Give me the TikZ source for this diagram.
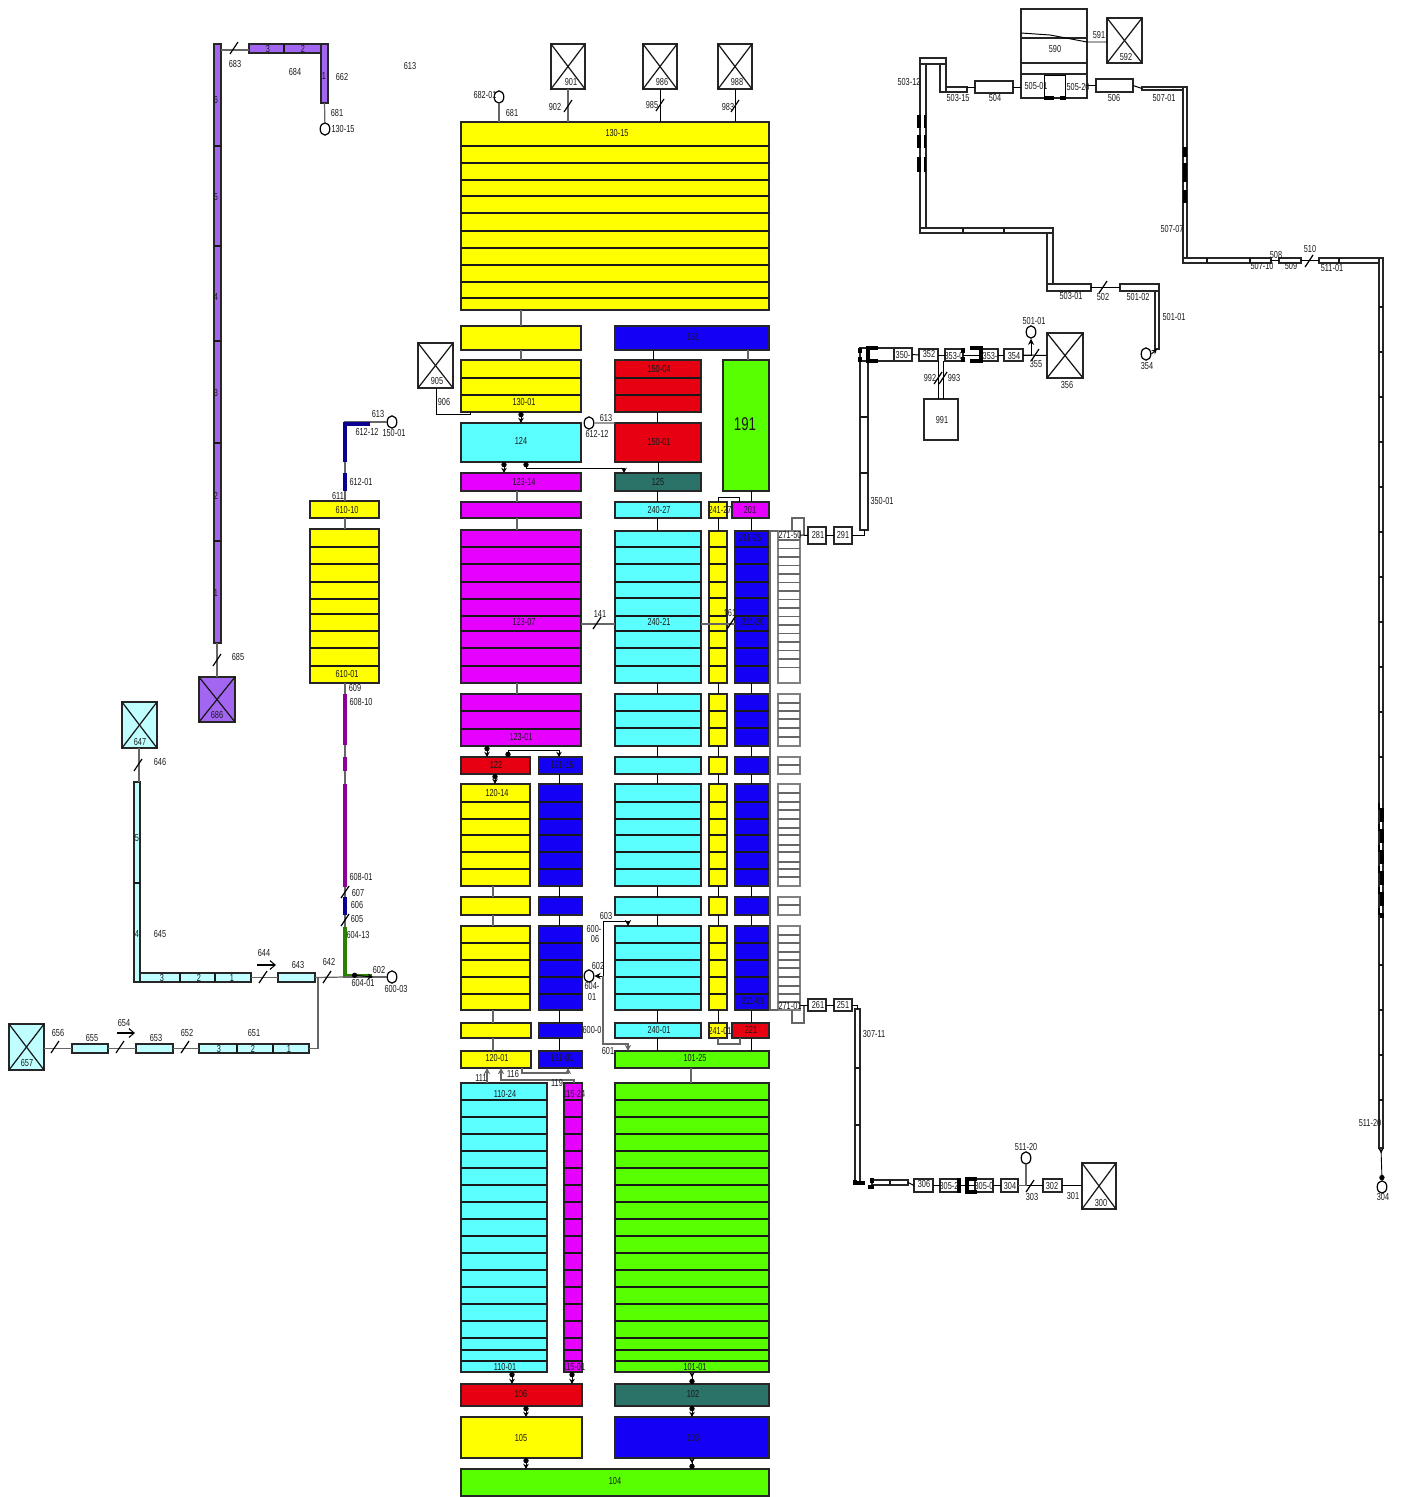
\documentclass[tikz,border=0pt]{standalone}
\usepackage{fontspec}
\setmainfont{Liberation Sans}[FakeStretch=0.72]
\usetikzlibrary{arrows.meta,fit,shapes.geometric}

\definecolor{cellyellow}{HTML}{FFFF00}
\definecolor{cellblue}{HTML}{1400F5}
\definecolor{cellcyan}{HTML}{5CFFFF}
\definecolor{cellmagenta}{HTML}{E600FF}
\definecolor{cellred}{HTML}{E60012}
\definecolor{cellgreen}{HTML}{58FF00}
\definecolor{cellteal}{HTML}{2B7268}
\definecolor{paleblue}{HTML}{BFFFFF}
\definecolor{palepurple}{HTML}{A366F0}

\tikzset{
  cell/.style={draw=black!85, line width=0.7pt, inner sep=0pt, outer sep=0pt, rectangle},
  rowline/.style={black!90, line width=0.7pt},
  link/.style={black!60, line width=0.7pt},
  blk/.style={black, line width=0.55pt},
  tap/.style={black, line width=0.5pt, {Circle[length=3pt]}-{Stealth[length=3pt,width=3.2pt]}},
  rtap/.style={black, line width=0.5pt, {Stealth[length=3pt,width=3.2pt]}-{Circle[length=3pt]}},
  ytap/.style={black, line width=0.5pt, {Stealth[length=3pt,width=3.2pt,reversed]}-{Circle[length=3pt]}},
  term/.style={ellipse, draw=black, fill=white, line width=0.7pt, inner sep=0pt, minimum width=5.5pt, minimum height=7pt},
  brk/.style={black, line width=1.8pt},
  tube/.style={line width=1.9pt},
  lbl/.style={text=black!90, inner sep=0pt, font=\fontsize{5.8}{6}\selectfont},
}

% A filled box with row lines across it
\newcommand{\blk}[7]{
  \node[cell, fill=#2, fit={(#3,#4) (#5,#6)}] (#1) {};
  \foreach \ypos in {#7} \draw[rowline] (#3,\ypos) -- (#5,\ypos);
}
% The same with the lines running down it
\newcommand{\blkx}[7]{
  \node[cell, fill=#2, fit={(#3,#4) (#5,#6)}] (#1) {};
  \foreach \xpos in {#7} \draw[rowline] (\xpos,#4) -- (\xpos,#6);
}
% A crossed box
\newcommand{\xbox}[6]{
  \node[cell, fill=#2, fit={(#3,#4) (#5,#6)}] (#1) {};
  \draw[rowline] (#1.north west) -- (#1.south east);
  \draw[rowline] (#1.north east) -- (#1.south west);
}
% Link between two boxes at a given x
\newcommand{\vlink}[4][link]{\draw[#1] (#4,0 |- #2.south) -- (#4,0 |- #3.north);}
\newcommand{\vlinkup}[4][link]{\draw[#1] (#4,0 |- #2.north) -- (#4,0 |- #3.south);}
% Short stroke across a line
\newcommand{\cutmark}[2]{\draw[black, line width=0.7pt] (#1-4,#2+6) -- (#1+4,#2-6);}

\begin{document}
\begin{tikzpicture}[x=0.02cm, y=-0.02cm]
\useasboundingbox (0,0) rectangle (1401,1497);

% The top stack
\blk{b130t}{cellyellow}{461}{122}{769}{310}{146,163,180,196,213,231,248,265,282,298}
\blk{b130m}{cellyellow}{461}{326}{581}{350}{}
\blk{b130b}{cellyellow}{461}{360}{581}{412}{378,395}
\blk{b124}{cellcyan}{461}{423}{581}{462}{}
\blk{b123t}{cellmagenta}{461}{473}{581}{491}{}
\blk{b123m}{cellmagenta}{461}{502}{581}{518}{}
\blk{b123s}{cellmagenta}{461}{530}{581}{683}{547,564,582,599,616,631,648,666}
\blk{b123b}{cellmagenta}{461}{694}{581}{746}{711,729}
\blk{b122}{cellred}{461}{757}{530}{774}{}
\blk{b121t}{cellblue}{539}{757}{582}{774}{}

% The second column of the top
\blk{b151}{cellblue}{615}{326}{769}{350}{}
\blk{b150t}{cellred}{615}{360}{701}{412}{378,395}
\blk{b150b}{cellred}{615}{423}{701}{462}{}
\blk{b125}{cellteal}{615}{473}{701}{491}{}
\blk{b191}{cellgreen}{723}{360}{769}{491}{}

% The columns
\foreach \name/\colour/\xa/\xb in {l/cellyellow/461/530, m/cellblue/539/582, c/cellcyan/615/701, y/cellyellow/709/727, d/cellblue/735/769}{
  \blk{\name a}{\colour}{\xa}{784}{\xb}{886}{802,819,835,852,869}
  \blk{\name b}{\colour}{\xa}{897}{\xb}{915}{}
  \blk{\name c}{\colour}{\xa}{926}{\xb}{1010}{943,960,977,994}
}
\foreach \name/\colour/\xa/\xb in {c/cellcyan/615/701, y/cellyellow/709/727, d/cellblue/735/769}{
  \blk{\name s}{\colour}{\xa}{531}{\xb}{683}{547,564,582,598,616,631,648,666}
  \blk{\name t}{\colour}{\xa}{694}{\xb}{746}{711,728}
  \blk{\name u}{\colour}{\xa}{757}{\xb}{774}{}
}
\blk{c240t}{cellcyan}{615}{502}{701}{518}{}
\blk{y241t}{cellyellow}{709}{502}{727}{518}{}
\blk{b201}{cellmagenta}{732}{502}{769}{518}{}
\blk{ll}{cellyellow}{461}{1023}{531}{1038}{}
\blk{ml}{cellblue}{539}{1023}{582}{1038}{}
\blk{c240b}{cellcyan}{615}{1023}{701}{1038}{}
\blk{y241b}{cellyellow}{709}{1023}{727}{1038}{}
\blk{b221}{cellred}{732}{1023}{769}{1038}{}
\blk{b120}{cellyellow}{461}{1051}{531}{1068}{}
\blk{b121b}{cellblue}{539}{1051}{582}{1068}{}
\blk{b101t}{cellgreen}{615}{1051}{769}{1068}{}

% The white column
\begin{scope}[cell/.append style={draw=black!50, line width=0.9pt}, rowline/.append style={black!60}]
\blk{w1}{white}{778}{531}{800}{683}{540,548.5,...,675}
\blk{w2}{white}{778}{694}{800}{746}{703,711,719,728,737}
\blk{w3}{white}{778}{757}{800}{774}{765}
\blk{w4}{white}{778}{784}{800}{886}{793,802,810,819,828,835,845,852,862,869,877}
\blk{w5}{white}{778}{897}{800}{915}{905}
\blk{w6}{white}{778}{926}{800}{1010}{935,943,952,960,968,977,986,994,1002}
\end{scope}
\draw[link] (770,531) -- (770,1010);
\draw[link] (769,531) -- (w1.north west);
\draw[link] (769,1010) -- (w6.south west);

% The bottom stacks
\blk{b110}{cellcyan}{461}{1083}{547}{1372}{1100,1117,...,1338,1350,1361}
\blk{b115}{cellmagenta}{564}{1083}{582}{1372}{1100,1117,...,1338,1350,1361}
\blk{b101}{cellgreen}{615}{1083}{769}{1372}{1100,1117,...,1338,1350,1361}
\blk{b106}{cellred}{461}{1384}{582}{1406}{}
\blk{b102}{cellteal}{615}{1384}{769}{1406}{}
\blk{b105}{cellyellow}{461}{1417}{582}{1458}{}
\blk{b103}{cellblue}{615}{1417}{769}{1458}{}
\blk{b104}{cellgreen}{461}{1469}{769}{1496}{}

% Links down the stacks
\vlink{b130t}{b130m}{521}
\vlink{b130m}{b130b}{521}
\vlinkup[rtap]{b124}{b130b}{521}
\vlink[tap]{b124}{b123t}{504}
\vlink{b123t}{b123m}{517}
\vlink{b123m}{b123s}{517}
\vlink{b123s}{b123b}{517}
\vlinkup[rtap]{b122}{b123b}{487}
\vlink[tap]{b122}{la}{495}
\vlink[blk]{b121t}{ma}{559}
\vlink{la}{lb}{493}
\vlink{lb}{lc}{493}
\vlink{lc}{ll}{493}
\vlink{ll}{b120}{493}
\vlink[blk]{ma}{mb}{559}
\vlink[blk]{mb}{mc}{559}
\vlink[blk]{mc}{ml}{559}
\vlink[blk]{ml}{b121b}{559}
\vlink[blk]{b151}{b150t}{653}
\vlink{b151}{b191}{748}
\vlink[blk]{b150t}{b150b}{657}
\vlink[blk]{b150b}{b125}{658}
\vlink[blk]{b125}{c240t}{657}
\vlink[blk]{c240t}{cs}{657}
\vlink[blk]{cs}{ct}{657}
\vlink[blk]{ct}{cu}{657}
\vlink[blk]{cu}{ca}{657}
\vlink[blk]{ca}{cb}{657}
\vlink[blk]{cb}{cc}{657}
\vlink[blk]{cc}{c240b}{657}
\vlink[blk]{c240b}{b101t}{657}
\vlink[blk]{y241t}{ys}{718}
\vlink[blk]{ys}{yt}{718}
\vlink[blk]{yt}{yu}{718}
\vlink[blk]{yu}{ya}{718}
\vlink[blk]{ya}{yb}{718}
\vlink[blk]{yb}{yc}{718}
\vlink[blk]{yc}{y241b}{718}
\vlink[blk]{b191}{b201}{751}
\vlink[blk]{b201}{ds}{751}
\vlink[blk]{ds}{dt}{751}
\vlink[blk]{dt}{du}{751}
\vlink[blk]{du}{da}{751}
\vlink[blk]{da}{db}{751}
\vlink[blk]{db}{dc}{751}
\vlink[blk]{dc}{b221}{751}
\vlink[blk]{b221}{b101t}{751}
\vlink{b101t}{b101}{691}
\vlinkup[rtap]{b106}{b110}{512}
\vlinkup[rtap]{b106}{b115}{572}
\vlink[ytap]{b101}{b102}{692}
\vlink[tap]{b106}{b105}{526}
\vlink[tap]{b102}{b103}{692}
\vlinkup[rtap]{b104}{b105}{526}
\vlink[ytap]{b103}{b104}{692}

% Links that go round
\draw[tap] (526,0 |- b124.south) |- (624,468) -- (624,0 |- b125.north);
\draw[tap] (508,0 |- b122.north) |- (559,750) -- (559,0 |- b121t.north);
\draw[blk] (718,0 |- y241t.north) |- (739,497) -- (739,0 |- b201.north);
\draw[link] (718,0 |- y241b.south) |- (740,1044) -- (740,0 |- b221.south);
\draw[link, -{Stealth[length=3.5pt,width=3.5pt]}] (487,0 |- b110.north) -- (487,0 |- b120.south);
\draw[link, -{Stealth[length=3.5pt,width=3.5pt]}] (522,0 |- b120.south) |- (568,1073) -- (568,0 |- b121b.south);
\draw[link, -{Stealth[length=3.5pt,width=3.5pt]}] (574,0 |- b115.north) |- (501,1080) -- (501,0 |- b120.south);

% Links across
\draw[link] (b123s.east |- 0,624) -- (cs.west |- 0,624);
\cutmark{597}{623}
\draw[link] (cs.east |- 0,624) -- (ds.west |- 0,624);
\cutmark{731}{623}

% The feed with the circle in the middle
\node[term] (c604) at (589,976) {};
\coordinate (j603) at (603,976);
\draw[blk, -{Stealth[length=3.5pt,width=3.5pt]}] (j603) -- (c604);
\draw[blk, -{Stealth[length=3.5pt,width=3.5pt]}] (j603) |- (628,921) -- (628,0 |- cc.north);
\draw[link, -{Stealth[length=3.5pt,width=3.5pt]}] (j603) |- (628,1044) -- (628,0 |- b101t.north);

% Crossed boxes above the stack
\xbox{x901}{white}{551}{44}{585}{89}
\xbox{x986}{white}{643}{44}{677}{89}
\xbox{x988}{white}{718}{44}{752}{89}
\xbox{x905}{white}{418}{343}{453}{388}
\node[term] (c682) at (499,97) {};
\draw[link] (c682) -- (499,0 |- b130t.north);
\draw[link] (568,0 |- x901.south) -- (568,0 |- b130t.north);
\cutmark{568}{106}
\draw[blk] (660,0 |- x986.south) -- (660,0 |- b130t.north);
\cutmark{660}{105}
\draw[blk] (735,0 |- x988.south) -- (735,0 |- b130t.north);
\cutmark{735}{106}
\draw[blk] (436,0 |- x905.south) |- (470,414) -- (470,0 |- b130b.south);
\node[term] (c612) at (589,423) {};
\draw[link] (c612) -- (b150b.north west);

% The purple line
\blk{p1}{palepurple}{214}{44}{221}{643}{146,246,341,443,541}
\blkx{p2}{palepurple}{249}{44}{328}{53}{284,321}
\blk{p3}{palepurple}{321}{44}{328}{103}{}
\xbox{x686}{palepurple}{199}{677}{235}{722}
\node[term] (c130) at (325,129) {};
\draw[link] (p1.east |- 0,50) -- (p2.west |- 0,50);
\cutmark{234}{48}
\draw[link] (p3.south) -- (c130);
\draw[link] (217,0 |- p1.south) -- (217,0 |- x686.north);
\cutmark{217}{660}

% The line on the left
\blk{y610t}{cellyellow}{310}{501}{379}{518}{}
\blk{y610}{cellyellow}{310}{529}{379}{683}{547,564,582,599,614,631,648,666}
\node[term] (c150) at (392,422) {};
\draw[link] (345,0 |- y610t.north) |- (c150);
\vlink{y610t}{y610}{345}
\draw[tube, cellblue!60!black] (345,462) |- (370,424);
\draw[tube, cellblue!60!black] (345,473) -- (345,491);
\coordinate (j604) at (345,977);
\draw[link] (345,0 |- y610.south) -- (j604);
\draw[tube, cellmagenta!60!black] (345,694) -- (345,745) (345,757) -- (345,771) (345,784) -- (345,887);
\cutmark{345}{892}
\draw[tube, cellblue!60!black] (345,897) -- (345,915);
\cutmark{345}{920}
\draw[tube, cellgreen!50!black] (345,927) -- (345,976) -- (372,976);
\node[term] (c600) at (392,977) {};
\draw[link] (j604) -- (c600);
\draw[tap] (352,975) -- (373,977);

% The pale blue lines
\xbox{x647}{paleblue}{122}{702}{157}{748}
\blk{s645}{paleblue}{134}{782}{140}{982}{883}
\blkx{s645b}{paleblue}{140}{973}{251}{982}{180,215}
\blk{s643}{paleblue}{278}{973}{315}{982}{}
\draw[link] (139,0 |- x647.south) -- (139,0 |- s645.north);
\cutmark{138}{765}
\draw[link] (s645b.east) -- (s643.west);
\cutmark{263}{977}
\draw[link] (s643.east) -- (j604);
\cutmark{327}{977}
\draw[black, line width=0.6pt, -{Straight Barb[length=3pt,width=5pt]}] (257,965) -- (276,965);
\xbox{x657}{paleblue}{9}{1024}{44}{1070}
\blk{s655}{paleblue}{72}{1044}{108}{1053}{}
\blk{s653}{paleblue}{136}{1044}{173}{1053}{}
\blkx{s651}{paleblue}{199}{1044}{309}{1053}{237,273}
\draw[link] (x657.east |- s655.west) -- (s655.west);
\cutmark{55}{1047}
\draw[link] (s655.east) -- (s653.west);
\cutmark{120}{1047}
\draw[link] (s653.east) -- (s651.west);
\cutmark{185}{1047}
\draw[link] (s651.east) -| (318,977);
\draw[black, line width=0.6pt, -{Straight Barb[length=3pt,width=5pt]}] (117,1033) -- (135,1033);

% The line out of the white column, upper end
\blk{b281}{white}{808}{527}{826}{544}{}
\blk{b291}{white}{834}{527}{852}{544}{}
\draw[link] (792,0 |- w1.north) |- (804,518) -- (804,535);
\draw[blk] (w1.east |- 0,535) -- (b281.west);
\draw[blk] (b281.east) -- (b291.west);
\blk{b350}{white}{860}{361}{868}{530}{417,473}
\draw[blk] (b291.east) -| (b350.south);
\blk{b350t}{white}{860}{348}{894}{361}{}
\blk{b350b}{white}{894}{348}{912}{361}{}
\blk{b352}{white}{919}{349}{938}{361}{}
\blk{b353a}{white}{945}{349}{963}{361}{}
\blk{b353b}{white}{982}{349}{998}{361}{}
\blk{b354}{white}{1004}{349}{1023}{361}{}
\xbox{x356}{white}{1047}{333}{1083}{378}
\blk{b991}{white}{924}{399}{958}{440}{}
\node[term] (c501) at (1031,332) {};
\draw[blk] (b350b.east) -- (b352.west);
\draw[blk] (b352.east) -- (b353a.west);
\draw[blk] (b353b.west) -- (b353a.east);
\draw[blk] (b353b.east) -- (b354.west);
\draw[blk] (b354.east) -- (x356.west);
\cutmark{1035}{355}
\draw[blk, -{Stealth[length=3.5pt,width=3.5pt]}] (b354.east) -| (c501.south);
\draw[blk] (938,0 |- b352.south) -- (938,0 |- b991.north);
\draw[blk] (943,0 |- b352.south) -- (943,0 |- b991.north);
\cutmark{938}{378}
\cutmark{943}{378}
\draw[brk] (860,348) -- (860,353) (860,357) -- (860,362);
\draw[brk] (878,348) -- (868,348) -- (868,361) -- (878,361);
\draw[brk] (963,348) -- (963,353) (963,357) -- (963,362);
\draw[brk] (970,348) -- (981,348) -- (981,361) -- (970,361);

% The line out of the white column, lower end
\blk{b261}{white}{808}{999}{826}{1011}{}
\blk{b251}{white}{834}{999}{852}{1011}{}
\draw[link] (792,0 |- w6.south) |- (804,1023) -- (804,1005);
\draw[blk] (w6.east |- 0,1005) -- (b261.west);
\draw[blk] (b261.east) -- (b251.west);
\blk{b307}{white}{855}{1009}{860}{1183}{1068,1125}
\draw[blk] (b251.east) -| (b307.north);
\blkx{b307b}{white}{872}{1180}{908}{1185}{890}
\blk{b306}{white}{914}{1179}{933}{1192}{}
\blk{b305a}{white}{940}{1179}{958}{1192}{}
\blk{b305b}{white}{975}{1179}{993}{1192}{}
\blk{b304}{white}{1001}{1179}{1018}{1192}{}
\blk{b302}{white}{1043}{1179}{1062}{1192}{}
\xbox{x300}{white}{1082}{1163}{1116}{1209}
\node[term] (c511) at (1026,1158) {};
\draw[blk] (b307b.east) -- (b306.west);
\draw[blk] (b306.east) -- (b305a.west);
\draw[blk] (b305a.east) -- (b305b.west);
\draw[blk] (b305b.east) -- (b304.west);
\draw[blk] (b304.east) -- (b302.west);
\cutmark{1030}{1186}
\draw[blk] (b302.east) -- (x300.west |- b302.east);
\draw[link] (b304.east) -| (c511.south);
\draw[brk] (855,1183) -- (865,1183) (855,1185) -- (855,1180) (868,1187) -- (874,1187) (872,1178) -- (872,1183);
\draw[brk] (959,1178) -- (959,1193);
\draw[brk] (977,1179) -- (967,1179) -- (967,1192) -- (977,1192);

% The 500 line, first part
\blk{r503a}{white}{920}{58}{926}{233}{}
\blk{r503b}{white}{920}{58}{946}{64}{}
\blk{r503c}{white}{940}{64}{946}{92}{}
\blk{r503d}{white}{946}{87}{967}{92}{}
\blkx{r503e}{white}{920}{228}{1053}{233}{963,1004}
\blk{r503f}{white}{1047}{233}{1053}{290}{}
\blk{r503g}{white}{1047}{284}{1091}{291}{}
\blk{r501b}{white}{1120}{284}{1159}{291}{}
\blk{r501a}{white}{1155}{291}{1159}{349}{}
\node[term] (c354) at (1146,354) {};
\draw[blk] (r503g.east) -- (r501b.west);
\cutmark{1103}{287}
\draw[blk, -{Stealth[length=3pt,width=3pt]}] (c354.east) -- (r501a.south);
\draw[brk] (919,115) -- (919,128) (919,135) -- (919,148) (919,157) -- (919,172);
\draw[brk, line width=1pt] (925,115) -- (925,128) (925,135) -- (925,148) (925,157) -- (925,172);

% The boxes at the top right
\blk{r504}{white}{975}{81}{1013}{93}{}
\blk{top590a}{white}{1021}{9}{1087}{38}{}
\blk{top590b}{white}{1021}{38}{1087}{63}{}
\blk{top590c}{white}{1021}{63}{1087}{74}{}
\blk{top590d}{white}{1021}{74}{1087}{98}{}
\xbox{x592}{white}{1107}{18}{1142}{63}
\blk{r506}{white}{1096}{79}{1133}{92}{}
\draw[blk] (r503d.east |- r504.west) -- (r504.west);
\draw[blk] (r504.east) -- (top590d.west |- r504.east);
\draw[blk] (top590d.east |- r506.west) -- (r506.west);
\draw[blk] (1021,33) -- (1050,35) -- (1087,42) -- (x592.west |- 0,42);
\draw[blk] (1044,98) |- (1065,75) -- (1065,98);
\draw[brk] (1044,98) -- (1054,98) (1060,98) -- (1066,98);

% The 500 line, second part
\blk{r507a}{white}{1142}{87}{1185}{90}{}
\blk{r507b}{white}{1183}{87}{1187}{262}{}
\blkx{r507c}{white}{1183}{258}{1271}{263}{1207,1250}
\blk{r509}{white}{1279}{258}{1301}{263}{}
\blkx{r511a}{white}{1319}{258}{1381}{263}{1339}
\blk{r511b}{white}{1379}{258}{1383}{1148}{307,352,397,442,487,532,577,622,667,712,757,965,1010,1055,1100}
\node[term] (c304) at (1382,1187) {};
\draw[blk] (r506.east) -- (r507a.west);
\draw[blk] (r507c.east) -- (r509.west);
\draw[blk] (r509.east) -- (r511a.west);
\cutmark{1309}{261}
\draw[ytap] (r511b.south) -- (c304.north);
\draw[brk, line width=2pt] (1185,147) -- (1185,157) (1185,163) -- (1185,182) (1185,190) -- (1185,203);
\draw[brk, line width=2.2pt, dash pattern=on 8pt off 4pt] (1382,808) -- (1382,918);
\draw[brk, line width=1pt, dash pattern=on 4pt off 8pt] (1379,803) -- (1379,922);

% Labels in the stacks
\node[lbl] (t13015) at (617,133) {130-15};
\node[lbl] (t13001) at (524,402) {130-01};
\node[lbl] (t124) at (521,441) {124};
\node[lbl] (t12314) at (524,482) {123-14};
\node[lbl] (t12307) at (524,622) {123-07};
\node[lbl] (t12301) at (521,737) {123-01};
\node[lbl] (t122) at (496,765) {122};
\node[lbl] (t12115) at (562,765) {121-15};
\node[lbl] (t12014) at (497,793) {120-14};
\node[lbl] (t12001) at (497,1058) {120-01};
\node[lbl] (t12101) at (562,1058) {121-01};
\node[lbl] (t151) at (693,337) {151};
\node[lbl] (t15004) at (659,369) {150-04};
\node[lbl] (t15001) at (659,442) {150-01};
\node[lbl] (t125) at (658,482) {125};
\node[lbl, font=\fontsize{10.5}{11}\selectfont] (t191) at (745,424) {191};
\node[lbl] (t24027) at (659,510) {240-27};
\node[lbl] (t24127) at (720,510) {241-27};
\node[lbl] (t201) at (750,510) {201};
\node[lbl] (t24021) at (659,622) {240-21};
\node[lbl] (t21125) at (750,538) {211-25};
\node[lbl] (t21120) at (753,622) {211-20};
\node[lbl] (t21101) at (753,1001) {211-01};
\node[lbl] (t24001) at (659,1030) {240-01};
\node[lbl] (t24101) at (720,1031) {241-01};
\node[lbl] (t221) at (751,1030) {221};
\node[lbl] (t10125) at (695,1058) {101-25};
\node[lbl] (t11024) at (505,1094) {110-24};
\node[lbl] (t11001) at (505,1367) {110-01};
\node[lbl] (t11524) at (574,1094) {115-24};
\node[lbl] (t11501) at (574,1367) {115-01};
\node[lbl] (t10101) at (695,1367) {101-01};
\node[lbl] (t106) at (521,1394) {106};
\node[lbl] (t102) at (693,1394) {102};
\node[lbl] (t105) at (521,1438) {105};
\node[lbl] (t103) at (693,1438) {103};
\node[lbl] (t104) at (615,1481) {104};
\node[lbl] (t271a) at (790,535) {271-50};
\node[lbl] (t271b) at (790,1006) {271-01};

% Labels on the links of the stacks
\node[lbl] (t613a) at (410,66) {613};
\node[lbl] (t68201) at (485,95) {682-01};
\node[lbl] (t681a) at (512,113) {681};
\node[lbl] (t901) at (571,82) {901};
\node[lbl] (t986) at (662,82) {986};
\node[lbl] (t988) at (737,82) {988};
\node[lbl] (t902) at (555,107) {902};
\node[lbl] (t985) at (652,105) {985};
\node[lbl] (t983) at (728,107) {983};
\node[lbl] (t905) at (437,381) {905};
\node[lbl] (t906) at (444,402) {906};
\node[lbl] (t613b) at (606,418) {613};
\node[lbl] (t61212a) at (597,434) {612-12};
\node[lbl] (t141) at (600,614) {141};
\node[lbl] (t161) at (730,613) {161};
\node[lbl] (t603) at (606,916) {603};
\node[lbl] (t60006a) at (594,929) {600-};
\node[lbl] (t60006b) at (595,939) {06};
\node[lbl] (t602a) at (598,966) {602};
\node[lbl] (t60401a) at (592,986) {604-};
\node[lbl] (t60401b) at (592,997) {01};
\node[lbl] (t6000) at (592,1030) {600-0};
\node[lbl] (t601) at (608,1051) {601};
\node[lbl] (t111) at (481,1078) {111};
\node[lbl] (t116) at (513,1074) {116};
\node[lbl] (t119) at (557,1083) {119};

% Labels of the purple line
\node[lbl] (t683) at (235,64) {683};
\node[lbl] (t684) at (295,72) {684};
\node[lbl] (t662) at (342,77) {662};
\node[lbl] (t681b) at (337,113) {681};
\node[lbl] (t13015b) at (343,129) {130-15};
\node[lbl] (t685) at (238,657) {685};
\node[lbl] (t686) at (217,715) {686};
\node[lbl] (tp3) at (268,49) {3};
\node[lbl] (tp2) at (303,49) {2};
\node[lbl] (tp1) at (324,76) {1};
\node[lbl] (tq6) at (216,100) {6};
\node[lbl] (tq5) at (216,197) {5};
\node[lbl] (tq4) at (216,297) {4};
\node[lbl] (tq3) at (216,393) {3};
\node[lbl] (tq2) at (216,496) {2};
\node[lbl] (tq1) at (216,593) {1};

% Labels of the line on the left
\node[lbl] (t613c) at (378,414) {613};
\node[lbl] (t61212b) at (367,432) {612-12};
\node[lbl] (t15001b) at (394,433) {150-01};
\node[lbl] (t61201) at (361,482) {612-01};
\node[lbl] (t611) at (338,496) {611};
\node[lbl] (t61010) at (347,510) {610-10};
\node[lbl] (t61001) at (347,674) {610-01};
\node[lbl] (t609) at (355,688) {609};
\node[lbl] (t60810) at (361,702) {608-10};
\node[lbl] (t60801) at (361,877) {608-01};
\node[lbl] (t607) at (358,893) {607};
\node[lbl] (t606) at (357,905) {606};
\node[lbl] (t605) at (357,919) {605};
\node[lbl] (t60413) at (358,935) {604-13};
\node[lbl] (t60401c) at (363,983) {604-01};
\node[lbl] (t602b) at (379,970) {602};
\node[lbl] (t60003) at (396,989) {600-03};

% Labels of the pale blue lines
\node[lbl] (t647) at (140,742) {647};
\node[lbl] (t646) at (160,762) {646};
\node[lbl] (t645) at (160,934) {645};
\node[lbl] (ts5) at (137,838) {5};
\node[lbl] (ts4) at (137,934) {4};
\node[lbl] (tr3) at (162,978) {3};
\node[lbl] (tr2) at (199,978) {2};
\node[lbl] (tr1) at (232,978) {1};
\node[lbl] (t644) at (264,953) {644};
\node[lbl] (t643) at (298,965) {643};
\node[lbl] (t642) at (329,962) {642};
\node[lbl] (t657) at (27,1063) {657};
\node[lbl] (t656) at (58,1033) {656};
\node[lbl] (t655) at (92,1038) {655};
\node[lbl] (t654) at (124,1023) {654};
\node[lbl] (t653) at (156,1038) {653};
\node[lbl] (t652) at (187,1033) {652};
\node[lbl] (t651) at (254,1033) {651};
\node[lbl] (tu3) at (219,1049) {3};
\node[lbl] (tu2) at (253,1049) {2};
\node[lbl] (tu1) at (289,1049) {1};

% Labels of the lines on the right
\node[lbl] (t281) at (818,535) {281};
\node[lbl] (t291) at (843,535) {291};
\node[lbl] (t35001) at (882,501) {350-01};
\node[lbl] (t350) at (903,355) {350-};
\node[lbl] (t352) at (929,354) {352};
\node[lbl] (t3530) at (954,356) {353-0};
\node[lbl] (t353) at (990,356) {353-};
\node[lbl] (t354a) at (1014,356) {354};
\node[lbl] (t355) at (1036,364) {355};
\node[lbl] (t356) at (1067,385) {356};
\node[lbl] (t50101a) at (1034,321) {501-01};
\node[lbl] (t991) at (942,420) {991};
\node[lbl] (t992) at (930,378) {992};
\node[lbl] (t993) at (954,378) {993};
\node[lbl] (t354b) at (1147,366) {354};
\node[lbl] (t50101b) at (1174,317) {501-01};
\node[lbl] (t50102) at (1138,297) {501-02};
\node[lbl] (t502) at (1103,297) {502};
\node[lbl] (t50301) at (1071,296) {503-01};
\node[lbl] (t50312) at (909,82) {503-12};
\node[lbl] (t50315) at (958,98) {503-15};
\node[lbl] (t504) at (995,98) {504};
\node[lbl] (t590) at (1055,49) {590};
\node[lbl] (t591) at (1099,35) {591};
\node[lbl] (t592) at (1126,57) {592};
\node[lbl] (t50501) at (1036,86) {505-01};
\node[lbl] (t50520) at (1078,87) {505-20};
\node[lbl] (t506) at (1114,98) {506};
\node[lbl] (t50701) at (1164,98) {507-01};
\node[lbl] (t50707) at (1172,229) {507-07};
\node[lbl] (t50710) at (1262,266) {507-10};
\node[lbl] (t508) at (1276,255) {508};
\node[lbl] (t509) at (1291,266) {509};
\node[lbl] (t510) at (1310,249) {510};
\node[lbl] (t51101) at (1332,268) {511-01};
\node[lbl] (t51120a) at (1370,1123) {511-20};
\node[lbl] (t304a) at (1383,1197) {304};
\node[lbl] (t261) at (818,1005) {261};
\node[lbl] (t251) at (843,1005) {251};
\node[lbl] (t30711) at (874,1034) {307-11};
\node[lbl] (t306) at (924,1184) {306};
\node[lbl] (t3052) at (949,1186) {305-2};
\node[lbl] (t3050) at (984,1186) {305-0};
\node[lbl] (t304b) at (1010,1186) {304};
\node[lbl] (t51120b) at (1026,1147) {511-20};
\node[lbl] (t303) at (1032,1197) {303};
\node[lbl] (t302) at (1052,1186) {302};
\node[lbl] (t301) at (1073,1196) {301};
\node[lbl] (t300) at (1101,1203) {300};

\end{tikzpicture}
\end{document}
